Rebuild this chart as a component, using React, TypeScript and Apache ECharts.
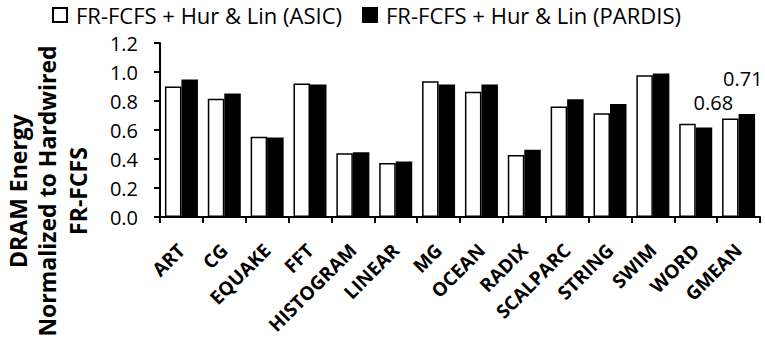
import React, { useEffect, useRef } from "react";
import * as echarts from "echarts";

const categories = ["ART", "CG", "EQUAKE", "FFT", "HISTOGRAM", "LINEAR", "MG", "OCEAN", "RADIX", "SCALPARC", "STRING", "SWIM", "WORD", "GMEAN"];
const asicValues = [0.9, 0.815, 0.553, 0.92, 0.44, 0.372, 0.937, 0.863, 0.427, 0.762, 0.716, 0.977, 0.643, 0.68];
const pardisValues = [0.948, 0.851, 0.549, 0.913, 0.447, 0.383, 0.913, 0.913, 0.464, 0.812, 0.78, 0.989, 0.617, 0.71];
const seriesNames = ["FR-FCFS + Hur & Lin (ASIC)", "FR-FCFS + Hur & Lin (PARDIS)"];
const yTitleLines = ["DRAM Energy", "Normalized to Hardwired", "FR-FCFS"];
const labelledCategory = "GMEAN";

const FONT = "'Open Sans', Lato, sans-serif";

export default function App() {
  const ref = useRef<HTMLDivElement>(null);
  useEffect(() => {
    document.body.style.margin = "0";
    const chart = echarts.init(ref.current!, null, { renderer: "svg" });
    const idx = categories.indexOf(labelledCategory);
    const mk = (vals: number[], offset: number[]) =>
      vals.map((v, i) =>
        i === idx
          ? {
              value: v,
              label: {
                show: true,
                position: "top",
                offset,
                formatter: (p: any) => p.value.toFixed(2),
                color: "#000",
                fontFamily: FONT,
                fontSize: 20,
              },
            }
          : v
      );
    chart.setOption({
      animation: false,
      backgroundColor: "#fff",
      textStyle: { fontFamily: FONT },
      legend: {
        left: 52,
        top: 3,
        padding: 0,
        itemWidth: 14,
        itemHeight: 14,
        itemGap: 20,
        icon: "rect",
        textStyle: { fontSize: 22, lineHeight: 24, color: "#000", fontFamily: FONT, padding: [0, 0, 0, 4] },
        data: seriesNames,
      },
      grid: { left: 160, right: 5, top: 43, bottom: 126, containLabel: false, outerBoundsMode: "none" },
      xAxis: {
        type: "category",
        data: categories,
        axisLine: { lineStyle: { color: "#000", width: 2 } },
        axisTick: { show: true, length: 6, lineStyle: { color: "#000", width: 2 } },
        axisLabel: {
          rotate: 45,
          interval: 0,
          hideOverlap: false,
          color: "#000",
          fontWeight: "bold",
          fontSize: 19,
          fontFamily: FONT,
          margin: 30,
        },
      },
      yAxis: {
        type: "value",
        min: 0,
        max: 1.2,
        interval: 0.2,
        splitLine: { show: false },
        axisLine: { show: true, lineStyle: { color: "#000", width: 2 } },
        axisTick: { show: true, length: 6, lineStyle: { color: "#000", width: 2 } },
        axisLabel: {
          color: "#000",
          fontSize: 20,
          fontFamily: FONT,
          margin: 22,
          formatter: (v: number) => v.toFixed(1),
        },
      },
      graphic: yTitleLines.map((t, i) => ({
        type: "text",
        x: [18, 47, 78][i],
        y: 191,
        rotation: Math.PI / 2,
        style: {
          text: t,
          fill: "#000",
          font: `bold 23px ${FONT}`,
          align: "center",
          verticalAlign: "middle",
        },
      })),
      series: [
        {
          name: seriesNames[0],
          type: "bar",
          data: mk(asicValues, [-17, -1]),
          barGap: "0%",
          barCategoryGap: "23%",
          itemStyle: { color: "#fff", borderColor: "#000", borderWidth: 1.5 },
        },
        {
          name: seriesNames[1],
          type: "bar",
          data: mk(pardisValues, [-4, -21]),
          barGap: "0%",
          barCategoryGap: "23%",
          itemStyle: { color: "#000", borderColor: "#000", borderWidth: 1.5 },
        },
      ],
    });
    return () => chart.dispose();
  }, []);
  return <div ref={ref} style={{ width: 765, height: 343 }} />;
}
